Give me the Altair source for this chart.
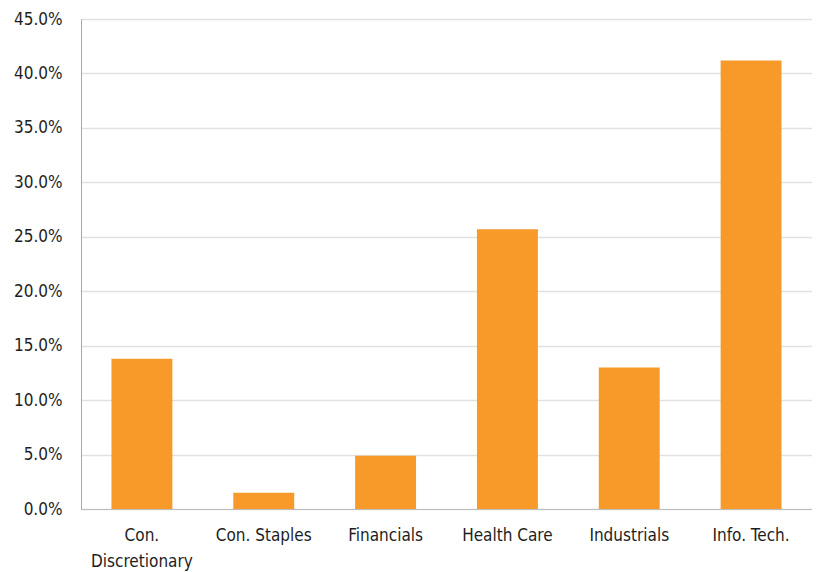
import altair as alt
import pandas as pd

sectors = ["Con. Discretionary", "Con. Staples", "Financials", "Health Care", "Industrials", "Info. Tech."]
values = [13.8, 1.5, 4.9, 25.7, 13.0, 41.2]

df = pd.DataFrame({"sector": sectors, "value": [v / 100 for v in values]})

FONT = "DejaVu Sans Condensed"

chart = alt.Chart(df).mark_bar(color="#F79A29").encode(
    x=alt.X("sector:N", sort=sectors, title=None,
            scale=alt.Scale(paddingInner=0.5, paddingOuter=0.25),
            axis=alt.Axis(labelAngle=0, ticks=False, labelPadding=18, labelFontSize=17,
                          labelFont=FONT, labelColor="#1e1e1e", labelLineHeight=26,
                          labelExpr="datum.value == 'Con. Discretionary' ? ['Con.', 'Discretionary'] : datum.value",
                          domainColor="#bdbdbd", labelBaseline="top")),
    y=alt.Y("value:Q", title=None,
            scale=alt.Scale(domain=[0, 0.45], nice=False),
            axis=alt.Axis(format=".1%", values=[i * 0.05 for i in range(10)], ticks=False,
                          labelPadding=19, labelFontSize=17, labelFont=FONT,
                          labelColor="#1e1e1e", gridColor="#e1e1e1", gridWidth=1.5,
                          domainColor="#a8a8a8")),
).properties(
    width=731, height=490,
    autosize=alt.AutoSizeParams(type="none"),
    padding={"left": 73, "top": 11, "right": 0, "bottom": 62},
).configure_view(stroke="#c8c8c8", strokeWidth=1)

chart.save("out.html", embed_options={"renderer": "svg", "actions": False})
